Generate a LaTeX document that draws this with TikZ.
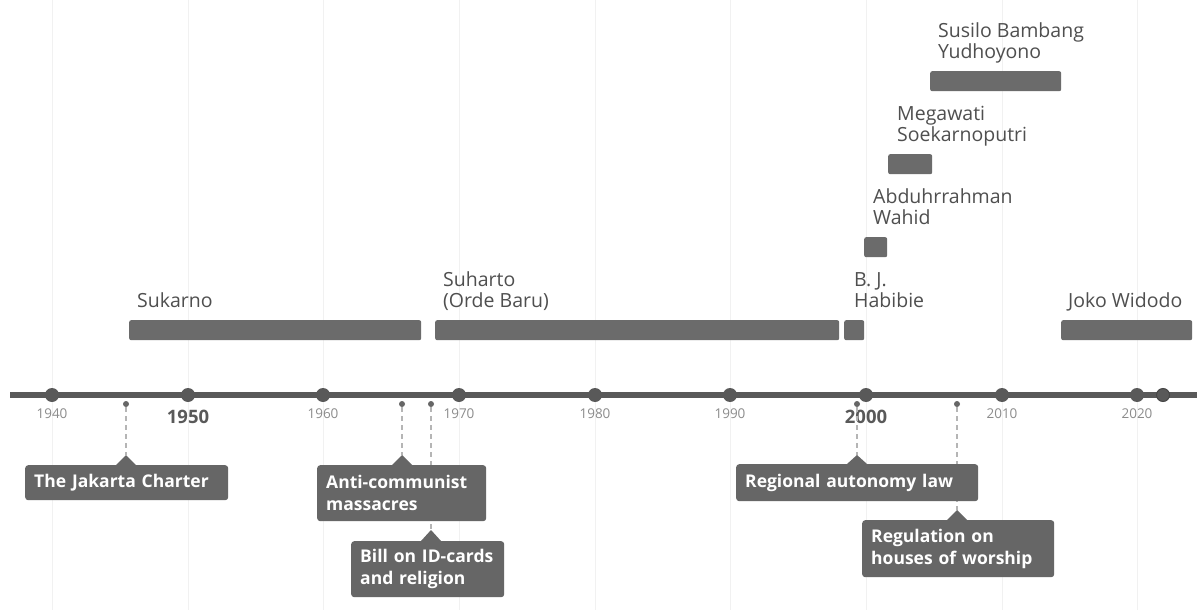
\documentclass[tikz,border=0pt]{standalone}
\usepackage{fontspec}
\setmainfont{Open Sans}
\definecolor{axisc}{HTML}{595959}
\definecolor{barc}{HTML}{6B6B6B}
\definecolor{callc}{HTML}{666666}
\definecolor{labc}{HTML}{4F4F4F}
\definecolor{yearc}{HTML}{8C8C8C}
\definecolor{gridc}{HTML}{F1F1F1}
\definecolor{dashc}{HTML}{B5B5B5}
\tikzset{
  gridline/.style={draw=gridc, line width=1pt},
  axisline/.style={draw=axisc, line width=6pt},
  decdot/.style={circle, fill=axisc, inner sep=0pt, minimum size=14pt},
  evdot/.style={circle, fill=callc, inner sep=0pt, minimum size=6pt},
  yearlab/.style={text=yearc, font=\fontsize{13.5}{16}\selectfont, inner sep=0pt},
  yearbig/.style={text=axisc, font=\bfseries\fontsize{18.5}{20}\selectfont, inner sep=0pt},
  barbox/.style={fill=barc, rounded corners=2pt, inner sep=0pt, anchor=north west, minimum height=20pt},
  barlab/.style={text=labc, font=\fontsize{19.5}{21}\selectfont, align=left, inner sep=0pt, anchor=base west},
  callout/.style={fill=callc, rounded corners=3pt, text=white, font=\bfseries\fontsize{17.5}{22}\selectfont, align=left, inner xsep=9pt, inner ysep=0pt, anchor=north west},
  evline/.style={draw=dashc, line width=1.5pt, dash pattern=on 5pt off 4pt},
}
\begin{document}
\begin{tikzpicture}[x=1pt,y=-1pt]
\useasboundingbox (0,0) rectangle (1197,610);
\fill[white] (0,0) rectangle (1197,610);
% grid
\foreach \x in {52,188,323,459,595,730,866,1002,1137}
  \draw[gridline] (\x,0) -- (\x,610);
% axis
\coordinate (axL) at (10,395);
\coordinate (axR) at (1197,395);
\draw[axisline] (axL) -- (axR);
\foreach \yr/\x in {1940/52,1950/188,1960/323,1970/459,1980/595,1990/730,2000/866,2010/1002,2020/1137}
  \node[decdot] (d\yr) at (\x,395) {};
\node[decdot, minimum size=13pt, draw=axisc!80!black, line width=1pt] (d2022) at (1163,395) {};
% year labels
\node[yearlab] (y1940) at (52,414) {1940};
\node[yearbig] (y1950) at (188,417) {1950};
\node[yearlab] (y1960) at (323,414) {1960};
\node[yearlab] (y1970) at (459,414) {1970};
\node[yearlab] (y1980) at (595,414) {1980};
\node[yearlab] (y1990) at (730,414) {1990};
\node[yearbig] (y2000) at (866,417) {2000};
\node[yearlab] (y2010) at (1002,414) {2010};
\node[yearlab] (y2020) at (1137,414) {2020};
% event dots and pointer tips
\foreach \n/\x/\t in {1/126/455,2/402/455,3/431/530,4/857/455,5/957/510}{
  \node[evdot] (e\n) at (\x,404) {};
  \coordinate (t\n) at (\x,\t);
  \draw[evline] (e\n) -- (t\n);
}
% callouts
\node[callout, text width=185pt, minimum height=35pt] (c1) at (25,465) {The Jakarta Charter};
\node[callout, text width=151pt, minimum height=56pt] (c2) at (317,465) {Anti-communist\\massacres};
\node[callout, text width=135pt, minimum height=56pt] (c3) at (351,541) {Bill on ID-cards\\and religion};
\node[callout, text width=224pt, minimum height=37pt] (c4) at (736,464) {Regional autonomy law};
\node[callout, text width=174pt, minimum height=57pt] (c5) at (862,520) {Regulation on\\houses of worship};
\foreach \n/\b in {1/465,2/465,3/541,4/464,5/520}
  \fill[callc] ([xshift=-10pt]t\n |- 0,\b) -- (t\n) -- ([xshift=10pt]t\n |- 0,\b) -- cycle;
% bars
\node[barbox, minimum width=292pt] (b1) at (129,320) {};
\node[barbox, minimum width=404pt] (b2) at (435,320) {};
\node[barbox, minimum width=20pt] (b3) at (844,320) {};
\node[barbox, minimum width=23pt] (b4) at (864,237) {};
\node[barbox, minimum width=44pt] (b5) at (888,154) {};
\node[barbox, minimum width=131pt] (b6) at (930,71) {};
\node[barbox, minimum width=131pt] (b7) at (1061,320) {};
% bar labels (base = last line)
\node[barlab] (l1) at (137,307) {Sukarno};
\node[barlab] (l2) at (443,307) {Suharto\\(Orde Baru)};
\node[barlab] (l3) at (854,307) {B. J.\\Habibie};
\node[barlab] (l4) at (873,224) {Abduhrrahman\\Wahid};
\node[barlab] (l5) at (897,141) {Megawati\\Soekarnoputri};
\node[barlab] (l6) at (938,59) {Susilo Bambang\\Yudhoyono};
\node[barlab] (l7) at (1068,307) {Joko Widodo};
\end{tikzpicture}
\end{document}
